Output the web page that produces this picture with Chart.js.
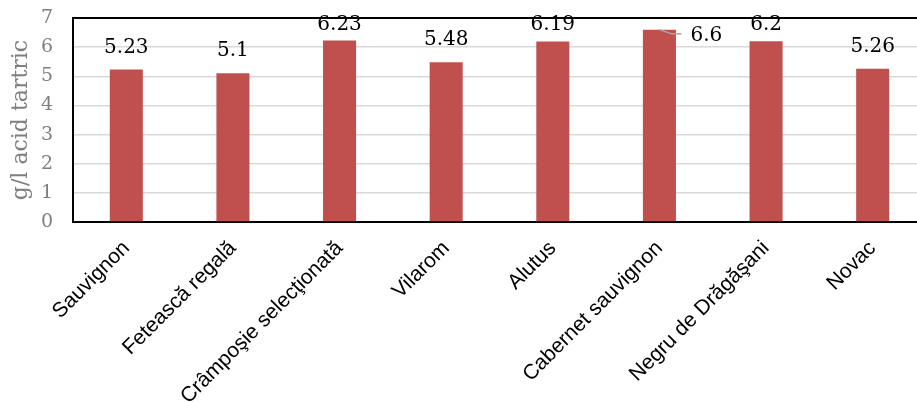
<!DOCTYPE html>
<html>
<head>
<meta charset="utf-8">
<script src="https://cdn.jsdelivr.net/npm/chart.js@4"></script>
<style>
  html, body { margin: 0; padding: 0; background: #fff; overflow: hidden; }
  #wrap { width: 926px; height: 402px; position: relative; }
</style>
</head>
<body>
<div id="wrap"><canvas id="c"></canvas></div>
<script>
const categories = ["Sauvignon", "Fetească regală", "Crâmpoşie selecţionată", "Vilarom", "Alutus", "Cabernet sauvignon", "Negru de Drăgăşani", "Novac"];
const acidValues = [5.23, 5.1, 6.23, 5.48, 6.19, 6.6, 6.2, 5.26];
const yTicks = [0, 1, 2, 3, 4, 5, 6, 7];
const yTitle = "g/l acid tartric";

const serif = '"DejaVu Serif", serif';

const labelPlugin = {
  id: 'valueLabels',
  afterDatasetsDraw(chart) {
    const ctx = chart.ctx;
    const area = chart.chartArea;
    const meta = chart.getDatasetMeta(0);
    ctx.save();
    ctx.font = '20px ' + serif;
    ctx.fillStyle = '#000';
    meta.data.forEach((bar, i) => {
      const txt = String(acidValues[i]);
      if (bar.y - area.top < 20) {
        ctx.strokeStyle = '#a6a6a6';
        ctx.lineWidth = 1.5;
        ctx.beginPath();
        ctx.moveTo(bar.x, bar.y);
        ctx.lineTo(bar.x + 12, bar.y + 4);
        ctx.lineTo(bar.x + 22, bar.y + 4);
        ctx.stroke();
        ctx.textAlign = 'left';
        ctx.textBaseline = 'middle';
        ctx.fillText(txt, bar.x + 31, bar.y + 6);
      } else {
        ctx.textAlign = 'center';
        ctx.textBaseline = 'alphabetic';
        const y = Math.max(bar.y - 17, area.top + 12);
        ctx.fillText(txt, bar.x, y);
      }
    });
    ctx.restore();
  }
};

new Chart(document.getElementById('c'), {
  type: 'bar',
  data: {
    labels: categories,
    datasets: [{
      data: acidValues,
      backgroundColor: '#c0504d',
      borderWidth: 0,
      categoryPercentage: 1,
      barPercentage: 0.31
    }]
  },
  options: {
    responsive: true,
    maintainAspectRatio: false,
    animation: false,
    layout: { padding: { top: 18, left: 0, right: 0, bottom: 0 } },
    plugins: { legend: { display: false }, tooltip: { enabled: false } },
    scales: {
      x: {
        grid: { display: false },
        border: { display: true, color: '#000', width: 2 },
        ticks: {
          autoSkip: false,
          maxRotation: 45,
          minRotation: 45,
          padding: 6,
          color: '#000',
          font: { family: '"Liberation Sans", Arial, sans-serif', size: 21 }
        },
        afterFit(scale) { scale.height = 180; }
      },
      y: {
        min: 0,
        max: 7,
        afterBuildTicks(scale) { scale.ticks = yTicks.map(v => ({ value: v })); },
        grid: {
          drawTicks: false,
          color: ctx => (ctx.tick && ctx.tick.value === 7) ? '#000' : '#d9d9d9',
          lineWidth: ctx => (ctx.tick && ctx.tick.value === 7) ? 2 : 1.5
        },
        border: { display: true, color: '#000', width: 2 },
        ticks: {
          padding: 20,
          color: '#7f7f7f',
          font: { family: serif, size: 19 }
        },
        title: {
          display: true,
          text: yTitle,
          color: '#7f7f7f',
          padding: { top: 8, bottom: 0 },
          font: { family: serif, size: 22 }
        },
        afterFit(scale) {
          scale.width = 73;
          scale.paddingTop = 0;
          scale.paddingBottom = 0;
        }
      }
    }
  },
  plugins: [labelPlugin]
});
</script>
</body>
</html>
